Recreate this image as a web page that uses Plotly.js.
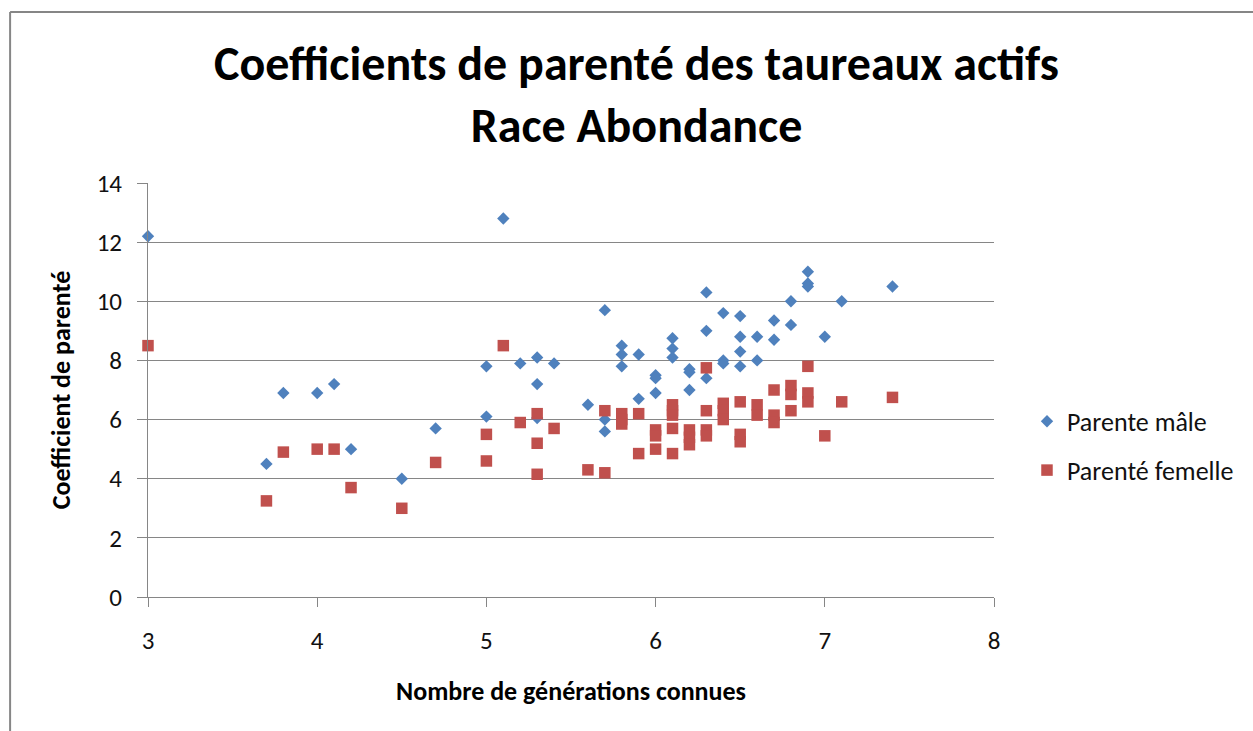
<!DOCTYPE html>
<html>
<head>
<meta charset="utf-8">
<script src="https://cdn.plot.ly/plotly-3.0.1.min.js"></script>
<style>
html,body{margin:0;padding:0;background:#fff;}
#chart{width:1253px;height:731px;}
</style>
</head>
<body>
<div id="chart"></div>
<script>
// Parenté mâle (blue diamonds)
const maleGen = [3.0, 3.7, 3.8, 4.0, 4.1, 4.2, 4.5, 4.7, 5.0, 5.0, 5.1, 5.2, 5.3, 5.3, 5.3, 5.4, 5.6, 5.7, 5.7, 5.7,
  5.8, 5.8, 5.8, 5.9, 5.9, 6.0, 6.0, 6.0, 6.1, 6.1, 6.1, 6.2, 6.2, 6.2, 6.3, 6.3, 6.3, 6.4, 6.4, 6.4,
  6.5, 6.5, 6.5, 6.5, 6.6, 6.6, 6.7, 6.7, 6.8, 6.8, 6.9, 6.9, 6.9, 7.0, 7.1, 7.4];
const maleCoef = [12.2, 4.5, 6.9, 6.9, 7.2, 5.0, 4.0, 5.7, 7.8, 6.1, 12.8, 7.9, 8.1, 7.2, 6.05, 7.9, 6.5, 9.7, 6.0, 5.6,
  8.5, 8.2, 7.8, 8.2, 6.7, 7.5, 7.4, 6.9, 8.75, 8.4, 8.1, 7.7, 7.6, 7.0, 10.3, 9.0, 7.4, 9.6, 8.0, 7.9,
  9.5, 8.8, 8.3, 7.8, 8.8, 8.0, 9.35, 8.7, 10.0, 9.2, 11.0, 10.6, 10.5, 8.8, 10.0, 10.5];

// Parenté femelle (red squares)
const femGen = [3.0, 3.7, 3.8, 4.0, 4.1, 4.2, 4.5, 4.7, 5.0, 5.0, 5.1, 5.2, 5.3, 5.3, 5.3, 5.4, 5.6, 5.7, 5.7,
  5.8, 5.8, 5.8, 5.9, 5.9, 6.0, 6.0, 6.0, 6.1, 6.1, 6.1, 6.1, 6.1, 6.2, 6.2, 6.2, 6.3, 6.3, 6.3, 6.3,
  6.4, 6.4, 6.4, 6.5, 6.5, 6.5, 6.6, 6.6, 6.7, 6.7, 6.7, 6.8, 6.8, 6.8, 6.9, 6.9, 6.9, 7.0, 7.1, 7.4];
const femCoef = [8.5, 3.25, 4.9, 5.0, 5.0, 3.7, 3.0, 4.55, 5.5, 4.6, 8.5, 5.9, 6.2, 5.2, 4.15, 5.7, 4.3, 6.3, 4.2,
  6.2, 6.0, 5.85, 6.2, 4.85, 5.65, 5.45, 5.0, 6.5, 6.3, 6.15, 5.7, 4.85, 5.65, 5.4, 5.15, 7.75, 6.3, 5.65, 5.45,
  6.55, 6.3, 6.0, 6.6, 5.5, 5.25, 6.5, 6.15, 7.0, 6.15, 5.9, 7.15, 6.85, 6.3, 7.8, 6.9, 6.6, 5.45, 6.6, 6.75];

const xTicks = [3, 4, 5, 6, 7, 8];
const yTicks = [0, 2, 4, 6, 8, 10, 12, 14];

const font = "Carlito, Lato, 'Open Sans', sans-serif";

const traces = [
  {
    type: 'scatter', mode: 'markers', name: 'Parente mâle',
    x: maleGen, y: maleCoef, legendgroup: 'm',
    marker: {symbol: 'diamond', size: 9.5, color: '#4F81BD', line: {width: 0}},
    cliponaxis: false
  },
  {
    type: 'scatter', mode: 'markers', name: 'Parenté femelle',
    x: femGen, y: femCoef, legendgroup: 'f',
    marker: {symbol: 'square', size: 11.5, color: '#C0504D', line: {width: 0}},
    cliponaxis: false
  }
];

const layout = {
  width: 1253, height: 731,
  margin: {l: 148, r: 259, t: 183, b: 134},
  paper_bgcolor: '#fff', plot_bgcolor: '#fff',
  font: {family: font, color: '#000'},
  title: {
    text: '<b>Coefficients de parenté des taureaux actifs<br>Race Abondance</b>',
    font: {family: font, size: 48, color: '#000'},
    x: 0.508, xanchor: 'center', xref: 'container',
    y: 0.891, yanchor: 'top', yref: 'container'
  },
  xaxis: {
    range: [3, 8], tickvals: xTicks, ticktext: xTicks.map(String),
    showgrid: false, zeroline: false,
    showline: true, linecolor: '#868686', linewidth: 1,
    ticks: 'outside', ticklen: 9, tickcolor: '#868686',
    ticklabelstandoff: 12,
    tickfont: {family: font, size: 25, color: '#111'},
    title: {text: '<b>Nombre de générations connues</b>', font: {family: font, size: 26, color: '#000'}, standoff: 26}
  },
  yaxis: {
    range: [0, 14], tickvals: yTicks, ticktext: yTicks.map(String),
    showgrid: true, gridcolor: '#868686', gridwidth: 1,
    zeroline: false,
    showline: true, linecolor: '#868686', linewidth: 1,
    ticks: 'outside', ticklen: 10, tickcolor: '#868686',
    ticklabelstandoff: 10,
    tickfont: {family: font, size: 25, color: '#111'},
    title: {text: '<b>Coefficient de parenté</b>', font: {family: font, size: 26, color: '#000'}, standoff: 18}
  },
  showlegend: true,
  legend: {
    x: 1.039, xanchor: 'left', y: 0.365, yanchor: 'middle',
    font: {family: font, size: 26, color: '#111'},
    tracegroupgap: 12, traceorder: 'grouped',
    bgcolor: 'rgba(0,0,0,0)'
  },
  shapes: [
    {type: 'line', xref: 'paper', yref: 'paper', x0: -0.163, x1: -0.163, y0: 1.413, y1: -0.33, line: {color: '#868686', width: 2}},
    {type: 'line', xref: 'paper', yref: 'paper', x0: -0.163, x1: 1.32, y0: 1.413, y1: 1.413, line: {color: '#868686', width: 2}}
  ]
};

Plotly.newPlot('chart', traces, layout, {displayModeBar: false, staticPlot: true});
</script>
</body>
</html>
